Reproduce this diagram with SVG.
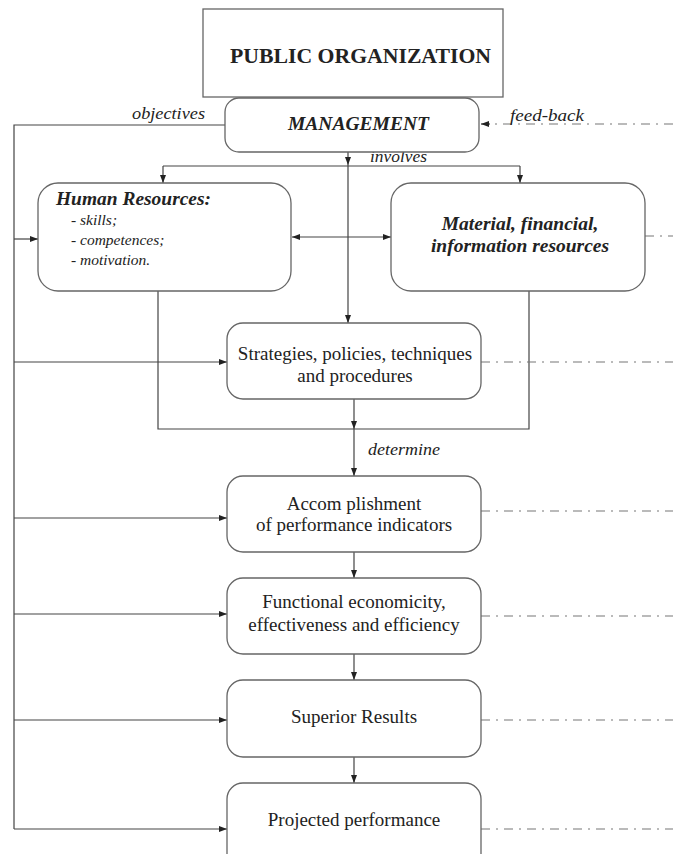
<svg xmlns="http://www.w3.org/2000/svg" width="673" height="854" viewBox="0 0 673 854">
<style>
.box{fill:#fff;stroke:#666;stroke-width:1.3}
.ln{fill:none;stroke:#444;stroke-width:1.2}
.dd{fill:none;stroke:#777;stroke-width:1.1;stroke-dasharray:9 6 2 6}
.t{font-family:"Liberation Serif","Times New Roman",serif;fill:#222}
.c{text-anchor:middle}
.r{font-size:19px}
.bi{font-weight:bold;font-style:italic}
.i{font-style:italic}
</style>
<defs>
<marker id="arr" markerWidth="9" markerHeight="7" refX="8" refY="3.5" orient="auto" markerUnits="userSpaceOnUse">
<path d="M0,0.5 L8,3.5 L0,6.5 Z" fill="#222"/>
</marker>
<marker id="arrs" markerWidth="9" markerHeight="7" refX="1" refY="3.5" orient="auto" markerUnits="userSpaceOnUse">
<path d="M9,0.5 L1,3.5 L9,6.5 Z" fill="#222"/>
</marker>
</defs>
<rect width="673" height="854" fill="#fff"/>

<g id="connectors">
<path class="ln" d="M225,125 H14 V829"/>
<path class="ln" d="M14,239 H38" marker-end="url(#arr)"/>
<path class="ln" d="M14,362 H227" marker-end="url(#arr)"/>
<path class="ln" d="M14,518 H227" marker-end="url(#arr)"/>
<path class="ln" d="M14,614 H227" marker-end="url(#arr)"/>
<path class="ln" d="M14,720 H227" marker-end="url(#arr)"/>
<path class="ln" d="M14,829 H227" marker-end="url(#arr)"/>
<path class="ln" d="M348,152 V165" marker-end="url(#arr)"/>
<path class="ln" d="M348,165 V323" marker-end="url(#arr)"/>
<path class="ln" d="M163,166 H520"/>
<path class="ln" d="M163,166 V183" marker-end="url(#arr)"/>
<path class="ln" d="M520,166 V183" marker-end="url(#arr)"/>
<path class="ln" d="M292,237 H391" marker-start="url(#arrs)" marker-end="url(#arr)"/>
<path class="ln" d="M158,291 V429 H529 V291"/>
<path class="ln" d="M354,399 V429" marker-end="url(#arr)"/>
<path class="ln" d="M354,429 V476" marker-end="url(#arr)"/>
<path class="ln" d="M354,552 V578" marker-end="url(#arr)"/>
<path class="ln" d="M354,654 V680" marker-end="url(#arr)"/>
<path class="ln" d="M354,757 V783" marker-end="url(#arr)"/>
<path class="dd" d="M673,124 H490"/>
<path class="ln" d="M490,124 H481" marker-end="url(#arr)"/>
<path class="dd" d="M645,236 H673"/>
<path class="dd" d="M481,362 H673"/>
<path class="dd" d="M481,511 H673"/>
<path class="dd" d="M481,616 H673"/>
<path class="dd" d="M481,720 H673"/>
<path class="dd" d="M481,829 H673"/>
<text class="t i" x="132" y="119" font-size="17" textLength="73" lengthAdjust="spacingAndGlyphs">objectives</text>
<text class="t i" x="510" y="121" font-size="17" textLength="74" lengthAdjust="spacingAndGlyphs">feed-back</text>
<text class="t i" x="370" y="162" font-size="17" textLength="57" lengthAdjust="spacingAndGlyphs">involves</text>
<text class="t i" x="368" y="455" font-size="17" textLength="72" lengthAdjust="spacingAndGlyphs">determine</text>
</g>

<g id="public-organization">
<rect class="box" x="203" y="9" width="300" height="88"/>
<text class="t" x="230" y="63" font-size="21.5" font-weight="bold" textLength="261" lengthAdjust="spacingAndGlyphs">PUBLIC ORGANIZATION</text>
</g>

<g id="management">
<rect class="box" x="225" y="98" width="254" height="54" rx="14"/>
<text class="t bi" x="288" y="130" font-size="19.5" textLength="141" lengthAdjust="spacingAndGlyphs">MANAGEMENT</text>
</g>

<g id="human-resources">
<rect class="box" x="38" y="183" width="253" height="108" rx="20"/>
<text class="t bi" x="56" y="205" font-size="18.5" textLength="155" lengthAdjust="spacingAndGlyphs">Human Resources:</text>
<text class="t i" x="71" y="225" font-size="15.5">- skills;</text>
<text class="t i" x="71" y="245" font-size="15.5">- competences;</text>
<text class="t i" x="71" y="265" font-size="15.5">- motivation.</text>
</g>

<g id="material-resources">
<rect class="box" x="391" y="183" width="254" height="108" rx="20"/>
<text class="t bi c" x="520" y="230" font-size="19.5">Material, financial,</text>
<text class="t bi c" x="520" y="252" font-size="19.5">information resources</text>
</g>

<g id="strategies">
<rect class="box" x="227" y="323" width="254" height="76" rx="16"/>
<text class="t r c" x="355" y="360">Strategies, policies, techniques</text>
<text class="t r c" x="355" y="382">and procedures</text>
</g>

<g id="accomplishment">
<rect class="box" x="227" y="476" width="254" height="76" rx="16"/>
<text class="t r c" x="354" y="510">Accom plishment</text>
<text class="t r c" x="354" y="531">of performance indicators</text>
</g>

<g id="functional">
<rect class="box" x="227" y="578" width="254" height="76" rx="16"/>
<text class="t r c" x="354" y="608">Functional economicity,</text>
<text class="t r c" x="354" y="631">effectiveness and efficiency</text>
</g>

<g id="superior-results">
<rect class="box" x="227" y="680" width="254" height="77" rx="16"/>
<text class="t r c" x="354" y="723">Superior Results</text>
</g>

<g id="projected-performance">
<rect class="box" x="227" y="783" width="254" height="90" rx="16"/>
<text class="t r c" x="354" y="826">Projected performance</text>
</g>
</svg>
